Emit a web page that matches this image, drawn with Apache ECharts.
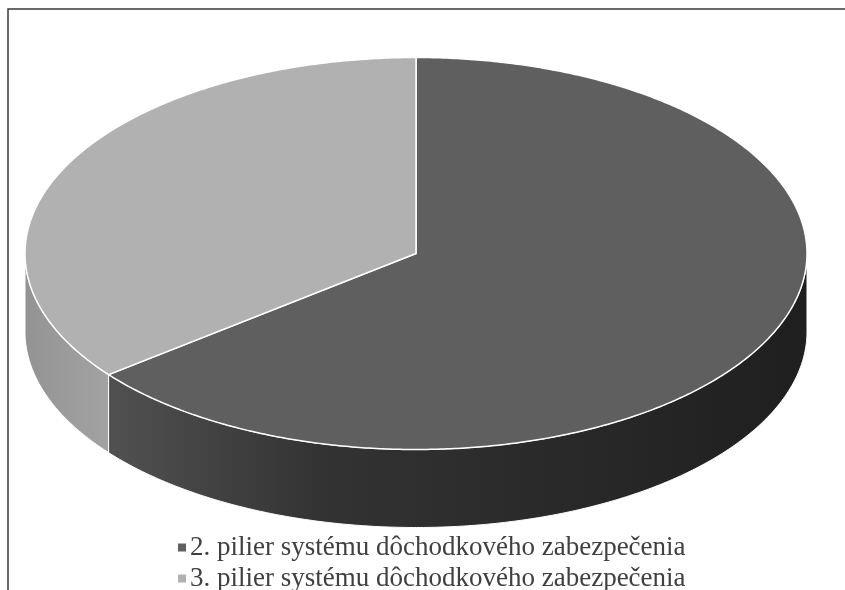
<!DOCTYPE html>
<html><head><meta charset="utf-8">
<script src="https://cdn.jsdelivr.net/npm/echarts@6/dist/echarts.min.js"></script>
<style>html,body{margin:0;padding:0;background:#fff}#c{width:845px;height:590px}</style>
</head><body><div id="c"></div>
<script>
// ---- data ----
const categories = ['2. pilier systému dôchodkového zabezpečenia', '3. pilier systému dôchodkového zabezpečenia'];
const values = [64.4, 35.6];
// ---- styles ----
const topColors = ['#5f5f5f', '#b1b1b1'];
const sideStops = [
  [[0, '#515151'], [0.3, '#333333'], [1, '#1f1f1f']],
  [[0, '#939393'], [1, '#a3a3a3']]
];
const CX = 416, CY = 253.5, RX = 391, RY = 196, DEPTH = 78;
const LEGEND_LEFT = 178, LEGEND_TOP = 534, LEGEND_ROW = 31;

const total = values.reduce((a, b) => a + b, 0);
const starts = []; let acc = 0;
values.forEach(v => { starts.push(acc / total * Math.PI * 2); acc += v; });

function pt(t, dy) { return [CX + RX * Math.sin(t), CY - RY * Math.cos(t) + (dy || 0)]; }
function arc(a, b, dy) {
  const n = Math.max(2, Math.ceil((b - a) / (Math.PI / 360)));
  const pts = [];
  for (let i = 0; i <= n; i++) pts.push(pt(a + (b - a) * i / n, dy));
  return pts;
}
function renderSlice(idx) {
  return function (params, api) {
    const a = starts[idx], b = a + api.value(0) / total * Math.PI * 2;
    const children = [];
    const s = Math.max(a, Math.PI / 2), e = Math.min(b, Math.PI * 1.5);
    if (e > s) {
      const top = arc(s, e, 0), bot = arc(s, e, DEPTH).reverse();
      children.push({
        type: 'polygon', shape: { points: top.concat(bot) },
        style: {
          fill: { type: 'linear', x: 0, y: 0, x2: 1, y2: 0,
            colorStops: sideStops[idx].map(s => ({ offset: s[0], color: s[1] })) },
          stroke: '#ffffff', lineWidth: 1
        }
      });
    }
    children.push({
      type: 'polygon', shape: { points: [[CX, CY]].concat(arc(a, b, 0)) },
      style: { fill: topColors[idx], stroke: '#ffffff', lineWidth: 1.5 }
    });
    return { type: 'group', children };
  };
}

const chart = echarts.init(document.getElementById('c'), null, { renderer: 'canvas' });
chart.setOption({
  animation: false,
  backgroundColor: '#ffffff',
  graphic: [{
    type: 'rect', shape: { x: 8, y: 9, width: 1000, height: 800 },
    style: { fill: 'none', stroke: '#3a3a3a', lineWidth: 1.5 }, z: 100
  }],
  legend: categories.map((name, i) => ({
    data: [name],
    orient: 'horizontal',
    left: LEGEND_LEFT,
    top: LEGEND_TOP + i * LEGEND_ROW,
    padding: 0,
    icon: 'rect',
    itemWidth: 8,
    itemHeight: 8,
    textStyle: { fontFamily: 'Liberation Serif', fontSize: 27, color: '#404040', padding: [0, 0, 0, -1] }
  })),
  series: categories.map((name, i) => ({
    type: 'custom',
    name: name,
    coordinateSystem: 'none',
    itemStyle: { color: topColors[i] },
    data: [values[i]],
    renderItem: renderSlice(i)
  }))
});
</script>
</body></html>
